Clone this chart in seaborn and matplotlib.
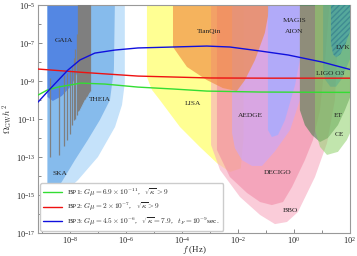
import numpy as np
import pandas as pd
import matplotlib
matplotlib.use("Agg")
import matplotlib.pyplot as plt
import seaborn as sns

# benchmark spectra, log10 f [Hz] vs log10 Omega_GW h^2
bp1_logf = [-9.14, -8.8, -8.43, -7.61, -6.75, -5.57, -4.32, -3.11, -1.21, 2.0]
bp1_logo = [-9.74, -9.47, -9.32, -9.11, -9.16, -9.32, -9.42, -9.53, -9.58, -9.6]
bp2_logf = [-9.14, -7.5, -5.57, -4.3, -3.0, -1.0, 2.0]
bp2_logo = [-8.37, -8.55, -8.74, -8.79, -8.84, -8.85, -8.85]
bp3_logf = [-9.14, -8.68, -8.07, -7.64, -7.11, -6.39, -5.57, -4.32, -3.11, -2.29, -1.21, -0.21, 1.0, 2.07]
bp3_logo = [-10.11, -9.37, -8.42, -7.89, -7.53, -7.37, -7.26, -7.21, -7.16, -7.21, -7.42, -7.63, -8.0, -8.42]

bp_labels = [
    r"BP1: $G\mu = 6.9\times10^{-11}$,   $\sqrt{\kappa} > 9$",
    r"BP2: $G\mu = 2\times10^{-7}$,   $\sqrt{\kappa} > 9$",
    r"BP3: $G\mu = 4.5\times10^{-6}$,   $\sqrt{\kappa} = 7.9$,   $t_F = 10^{-9}$sec.",
]

# PTA violins (NANOGrav bins), frequency and log10 Omega range
pta_freq = [1.98e-9, 3.95e-9, 5.93e-9, 7.90e-9, 9.88e-9, 1.19e-8, 1.38e-8, 1.58e-8, 1.78e-8,
            1.98e-8, 2.17e-8, 2.37e-8, 2.57e-8, 2.77e-8, 2.96e-8, 3.16e-8, 3.36e-8, 3.56e-8,
            3.75e-8, 3.95e-8, 4.15e-8, 4.35e-8, 4.54e-8, 4.74e-8, 4.94e-8, 5.14e-8]
pta_low = [-13.0, -12.9, -12.4, -12.1, -11.8, -11.3, -11.05, -11.0, -10.8,
           -10.6, -10.5, -10.4, -10.3, -10.2, -10.1, -10.0, -9.95, -9.9,
           -9.85, -9.8, -9.75, -9.7, -9.65, -9.6, -9.6, -9.55]
pta_high = [-8.84, -9.2, -8.7, -8.6, -8.4, -8.2, -7.8, -7.3, -6.5,
            -4.5, -4.5, -4.5, -4.5, -4.5, -4.5, -4.5, -4.5, -4.5,
            -4.5, -4.5, -4.5, -4.5, -4.5, -4.5, -4.5, -4.5]

# sensitivity outlines (log10 f, log10 Omega h^2)
ska_outline = [(-8.80, -4.5), (-6.04, -4.5), (-6.04, -9.11), (-6.14, -10.26), (-6.39, -11.42),
               (-7.0, -13.0), (-7.71, -14.21), (-8.29, -15.0), (-8.54, -15.26), (-8.71, -15.2),
               (-8.80, -14.9)]
theia_outline = [(-8.80, -4.5), (-6.39, -4.5), (-6.43, -8.42), (-6.57, -10.0), (-6.93, -11.05),
                 (-7.36, -12.1), (-7.82, -13.16), (-8.25, -14.21), (-8.54, -14.9), (-8.71, -15.05),
                 (-8.80, -14.74)]
gaia_outline = [(-8.80, -4.5), (-7.36, -4.5), (-7.39, -6.84), (-7.57, -8.0), (-7.93, -9.21),
                (-8.29, -9.79), (-8.61, -10.05), (-8.80, -9.84)]
lisa_outline = [(-5.25, -4.5), (-5.25, -8.79), (-5.07, -9.47), (-4.79, -10.0), (-4.07, -11.42),
                (-3.36, -12.47), (-2.75, -13.32), (-2.29, -13.79), (-1.9, -13.6), (-1.8, -12.0),
                (-1.8, -4.5)]
tianqin_outline = [(-4.32, -4.5), (-4.32, -7.21), (-3.82, -8.26), (-3.11, -8.95), (-2.54, -9.37),
                   (-2.04, -9.53), (-1.75, -8.95), (-1.39, -7.89), (-1.04, -6.47), (-0.79, -4.5)]
bbo_outline = [(-2.96, -4.5), (-2.96, -12.37), (-2.64, -13.68), (-1.93, -15.1), (-1.21, -16.05),
               (-0.68, -16.53), (-0.25, -16.42), (0.14, -15.9), (0.75, -14.05), (1.18, -12.26),
               (1.46, -10.0), (1.64, -4.5)]
decigo_outline = [(-2.75, -4.5), (-2.75, -12.63), (-2.29, -14.05), (-1.68, -14.89), (-1.21, -15.37),
                  (-0.79, -15.53), (-0.39, -15.37), (-0.07, -14.58), (0.39, -13.16), (0.68, -12.1),
                  (0.93, -10.53), (1.11, -7.89), (1.29, -4.5)]
aedge_outline = [(-2.21, -4.5), (-2.21, -11.74), (-2.11, -12.53), (-1.86, -13.16), (-1.5, -13.47),
                 (-1.14, -13.47), (-0.68, -12.7), (-0.14, -11.58), (0.21, -10.0), (0.21, -4.5)]
magis_outline = [(-0.93, -4.5), (-0.93, -11.58), (-0.79, -11.95), (-0.57, -11.84), (-0.32, -11.05),
                 (0.04, -9.2), (0.21, -7.9), (0.21, -4.5)]
et_outline = [(0.21, -4.5), (0.21, -10.53), (0.39, -11.32), (0.64, -11.84), (0.93, -12.21),
              (1.21, -12.0), (1.57, -11.32), (1.82, -10.53), (2.1, -9.5), (2.1, -4.5)]
ce_outline = [(0.75, -4.5), (0.75, -11.58), (0.93, -12.47), (1.18, -12.89), (1.57, -12.73),
              (1.89, -12.1), (2.1, -11.42), (2.1, -4.5)]
ligo_outline = [(1.04, -4.5), (1.04, -8.2), (1.1, -8.9), (1.3, -9.3), (1.5, -9.3), (1.7, -8.9),
                (1.9, -8.2), (2.1, -7.5), (2.1, -4.5)]
lvk_outline = [(1.32, -4.5), (1.32, -7.0), (1.4, -7.6), (1.5, -7.75), (1.65, -7.6), (1.85, -7.0),
               (2.1, -6.0), (2.1, -4.5)]

region_names = ["SKA", "THEIA", "GAIA", "LISA", "TianQin", "AEDGE", "DECIGO", "BBO",
                "MAGIS", "AION", "LVK", "LIGO O3", "ET", "CE"]
label_logf = [-8.36, -6.93, -8.21, -3.61, -3.04, -1.57, -0.57, -0.14, 0.04, 0.0, 1.75, 1.29, 1.57, 1.61]
label_logo = [-13.89, -9.95, -6.89, -10.16, -6.42, -10.79, -13.84, -15.79, -5.79, -6.42, -7.21, -8.58, -10.79, -11.84]

sns.set_style("ticks")
plt.rcParams["font.family"] = ["Liberation Serif", "DejaVu Serif"]
plt.rcParams["mathtext.fontset"] = "cm"

fig = plt.figure(figsize=(3.57, 2.56), dpi=100)
ax = fig.add_axes([0.1064, 0.0898, 0.874, 0.8906])
ax.set_xscale("log")
ax.set_yscale("log")


def fill_region(outline, color, alpha, z, **kw):
    pts = np.array(outline)
    ax.fill(10 ** pts[:, 0], 10 ** pts[:, 1], color=color, alpha=alpha, lw=0, zorder=z, **kw)


# blue PTA / astrometry regions
fill_region(ska_outline, "#c5e2fa", 1.0, 1)
fill_region(theia_outline, "#86bbec", 1.0, 1.1)
fill_region(gaia_outline, "#5487e3", 1.0, 1.2)

# space and ground based interferometers
fill_region(lisa_outline, "#ffff66", 0.7, 2)
fill_region(bbo_outline, "#f7aac0", 0.6, 2.1)
fill_region(decigo_outline, "#f0809e", 0.5, 2.2)
fill_region(aedge_outline, "#c8a8ff", 0.6, 2.3)
fill_region(tianqin_outline, "#f08a40", 0.65, 2.4)
fill_region(magis_outline, "#a8acff", 0.8, 2.5)
fill_region(et_outline, "#3d7a45", 0.55, 2.6)
fill_region(ce_outline, "#8fd06a", 0.55, 2.7)
fill_region(ligo_outline, "#3aa39a", 0.35, 2.8)
pts = np.array(lvk_outline)
ax.fill(10 ** pts[:, 0], 10 ** pts[:, 1], facecolor="#3a9ab0", alpha=0.5, edgecolor="#2a7088",
        hatch="//////", lw=0, zorder=2.9)

# PTA violins
ax.vlines(pta_freq, [10 ** v for v in pta_low], [10 ** v for v in pta_high],
          color="#7f7f7f", lw=0.9, zorder=3)

# benchmark lines
for lf, lo, c, lab in zip([bp1_logf, bp2_logf, bp3_logf], [bp1_logo, bp2_logo, bp3_logo],
                          ["#33dd33", "#ee1111", "#1010dd"], bp_labels):
    df = pd.DataFrame({"f": 10 ** np.array(lf), "omega": 10 ** np.array(lo)})
    sns.lineplot(data=df, x="f", y="omega", ax=ax, color=c, lw=1.0, label=lab, zorder=5)

for name, lf, lo in zip(region_names, label_logf, label_logo):
    ax.text(10 ** lf, 10 ** lo, name, fontsize=5.3, ha="center", va="center", color="#222222", zorder=6)

ax.set_xlim(10 ** -9.14, 1e2)
ax.set_ylim(1e-17, 1e-5)
ax.set_xticks([1e-8, 1e-6, 1e-4, 1e-2, 1e0, 1e2])
ax.set_xticks([1e-9, 1e-7, 1e-5, 1e-3, 1e-1, 1e1], minor=True)
ax.set_yticks([1e-17, 1e-15, 1e-13, 1e-11, 1e-9, 1e-7, 1e-5])
ax.set_yticks([1e-16, 1e-14, 1e-12, 1e-10, 1e-8, 1e-6], minor=True)
ax.xaxis.set_minor_formatter(matplotlib.ticker.NullFormatter())
ax.yaxis.set_minor_formatter(matplotlib.ticker.NullFormatter())
ax.tick_params(which="both", direction="in", labelsize=6, color="#777777", width=0.6, pad=1.5)
ax.tick_params(which="major", length=3)
ax.tick_params(which="minor", length=2)
for sp in ax.spines.values():
    sp.set_color("#999999")
    sp.set_linewidth(0.8)

ax.set_xlabel(r"$f$ (Hz)", fontsize=6.5)
ax.set_ylabel(r"$\Omega_{\rm GW}h^2$", fontsize=6.5)
ax.xaxis.set_label_coords(0.5, -0.048)
ax.yaxis.set_label_coords(-0.075, 0.5)

leg = ax.legend(loc="lower left", fontsize=5.3, handlelength=2.5, borderpad=0.4,
                labelspacing=0.3, framealpha=1.0, edgecolor="#cccccc", fancybox=True,
                borderaxespad=0.3)
leg.set_zorder(10)

fig.savefig("out.png", dpi=100)
